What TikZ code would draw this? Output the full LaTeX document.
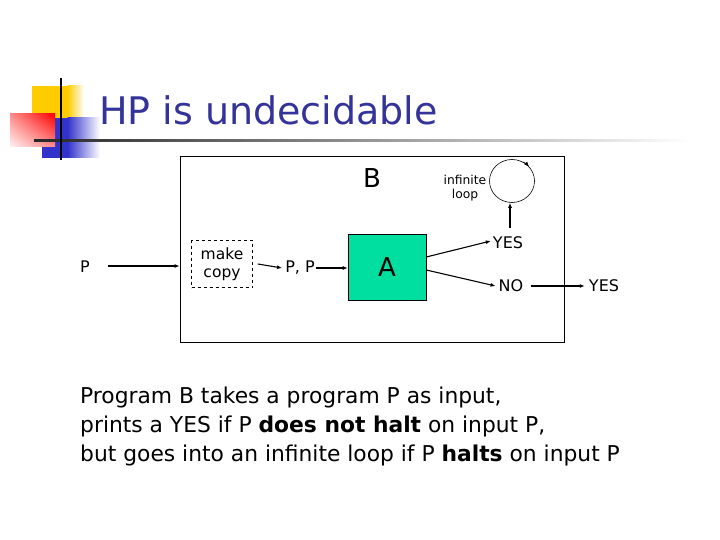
\documentclass[tikz,border=0pt]{standalone}
\usepackage{fontspec}
\setmainfont{DejaVu Sans}
\usetikzlibrary{arrows.meta,shapes.geometric,shadings}
\definecolor{titleblue}{RGB}{51,51,153}
\definecolor{agreen}{RGB}{0,222,160}
\definecolor{gold}{RGB}{255,204,0}
\definecolor{decoblue}{RGB}{51,51,204}
\begin{document}
\begin{tikzpicture}[x=1pt,y=-1pt,
  arr/.style={-{Latex[length=5pt,width=4pt]},line width=1.1pt},
  lbl/.style={inner sep=0pt,font=\fontsize{16}{18}\selectfont},
  body/.style={inner sep=0pt,anchor=west,font=\fontsize{21.8}{24}\selectfont}]
\useasboundingbox (0,0) rectangle (720,540);
% decoration
\fill[gold] (32,86) rectangle (68,118);
\shade[left color=gold, right color=white] (67.5,86) rectangle (84,118);
\fill[decoblue] (42,118) rectangle (68,158);
\shade[left color=decoblue, right color=white] (67.5,118) rectangle (100,158);
\shade[upper right=red, upper left=red!45, lower right=red!45, lower left=red!5] (10,114) rectangle (55,147);
\shade[left color=black!85, right color=white] (34,140) rectangle (690,142);
\draw[line width=2pt] (61,78) -- (61,160);
% title
\node[anchor=west,inner sep=0pt,text=titleblue,font=\fontsize{38}{42}\selectfont] (title) at (99,110) {HP is undecidable};
% box B
\node[draw,line width=0.8pt,minimum width=384pt,minimum height=186pt,inner sep=0pt] (B) at (372,249) {};
\node[inner sep=0pt,font=\fontsize{26}{28}\selectfont] (Blbl) at (372,178) {B};
% nodes
\node[lbl] (P) at (85,267) {P};
\node[draw,dashed,line width=0.6pt,minimum width=61pt,minimum height=47pt,inner sep=0pt,align=center,font=\fontsize{15.5}{18}\selectfont] (copy) at (222,264) {make\\copy};
\node[lbl] (PP) at (300,268) {P, P};
\node[draw,line width=0.6pt,fill=agreen,minimum width=78pt,minimum height=66pt,inner sep=0pt,font=\fontsize{26}{28}\selectfont] (A) at (387,267) {A};
\node[lbl] (yes) at (508,243) {YES};
\node[lbl] (no) at (511,286) {NO};
\node[lbl] (yes2) at (604,286) {YES};
\node[inner sep=0pt,align=center,font=\fontsize{12.3}{14}\selectfont] (inf) at (465,188) {infinite\\loop};
\node[draw,ellipse,line width=0.6pt,minimum width=45pt,minimum height=43pt,inner sep=0pt] (loop) at (512,181) {};
% arrows
\coordinate (pstart) at (108,266);
\draw[arr] (pstart) -- (B.west|-pstart);
\draw[arr] ([xshift=5pt]copy.east) -- ([xshift=-3pt]PP.west);
\draw[arr] ([xshift=1pt]PP.east) -- (A.west|-PP.east);
\draw[arr] ([yshift=10pt]A.east) -- ([xshift=-2pt,yshift=2pt]yes.west);
\draw[arr] ([yshift=-3pt]A.east) -- ([xshift=-3pt]no.west);
\coordinate (y1) at (510,228);
\draw[arr] (y1) -- (loop.south-|y1);
\draw[arr] ([xshift=8pt]no.east) -- ([xshift=-4pt]yes2.west);
\draw[-{Latex[length=5pt,width=4pt]},line width=0.6pt] (loop.60) arc[start angle=60,end angle=40,x radius=22.5pt,y radius=21.5pt];
% body text
\node[body] (l1) at (80,397) {Program B takes a program P as input,};
\node[body] (l2) at (80,426) {prints a YES if P \textbf{does not halt} on input P,};
\node[body] (l3) at (80,455) {but goes into an infinite loop if P \textbf{halts} on input P};
\end{tikzpicture}
\end{document}
